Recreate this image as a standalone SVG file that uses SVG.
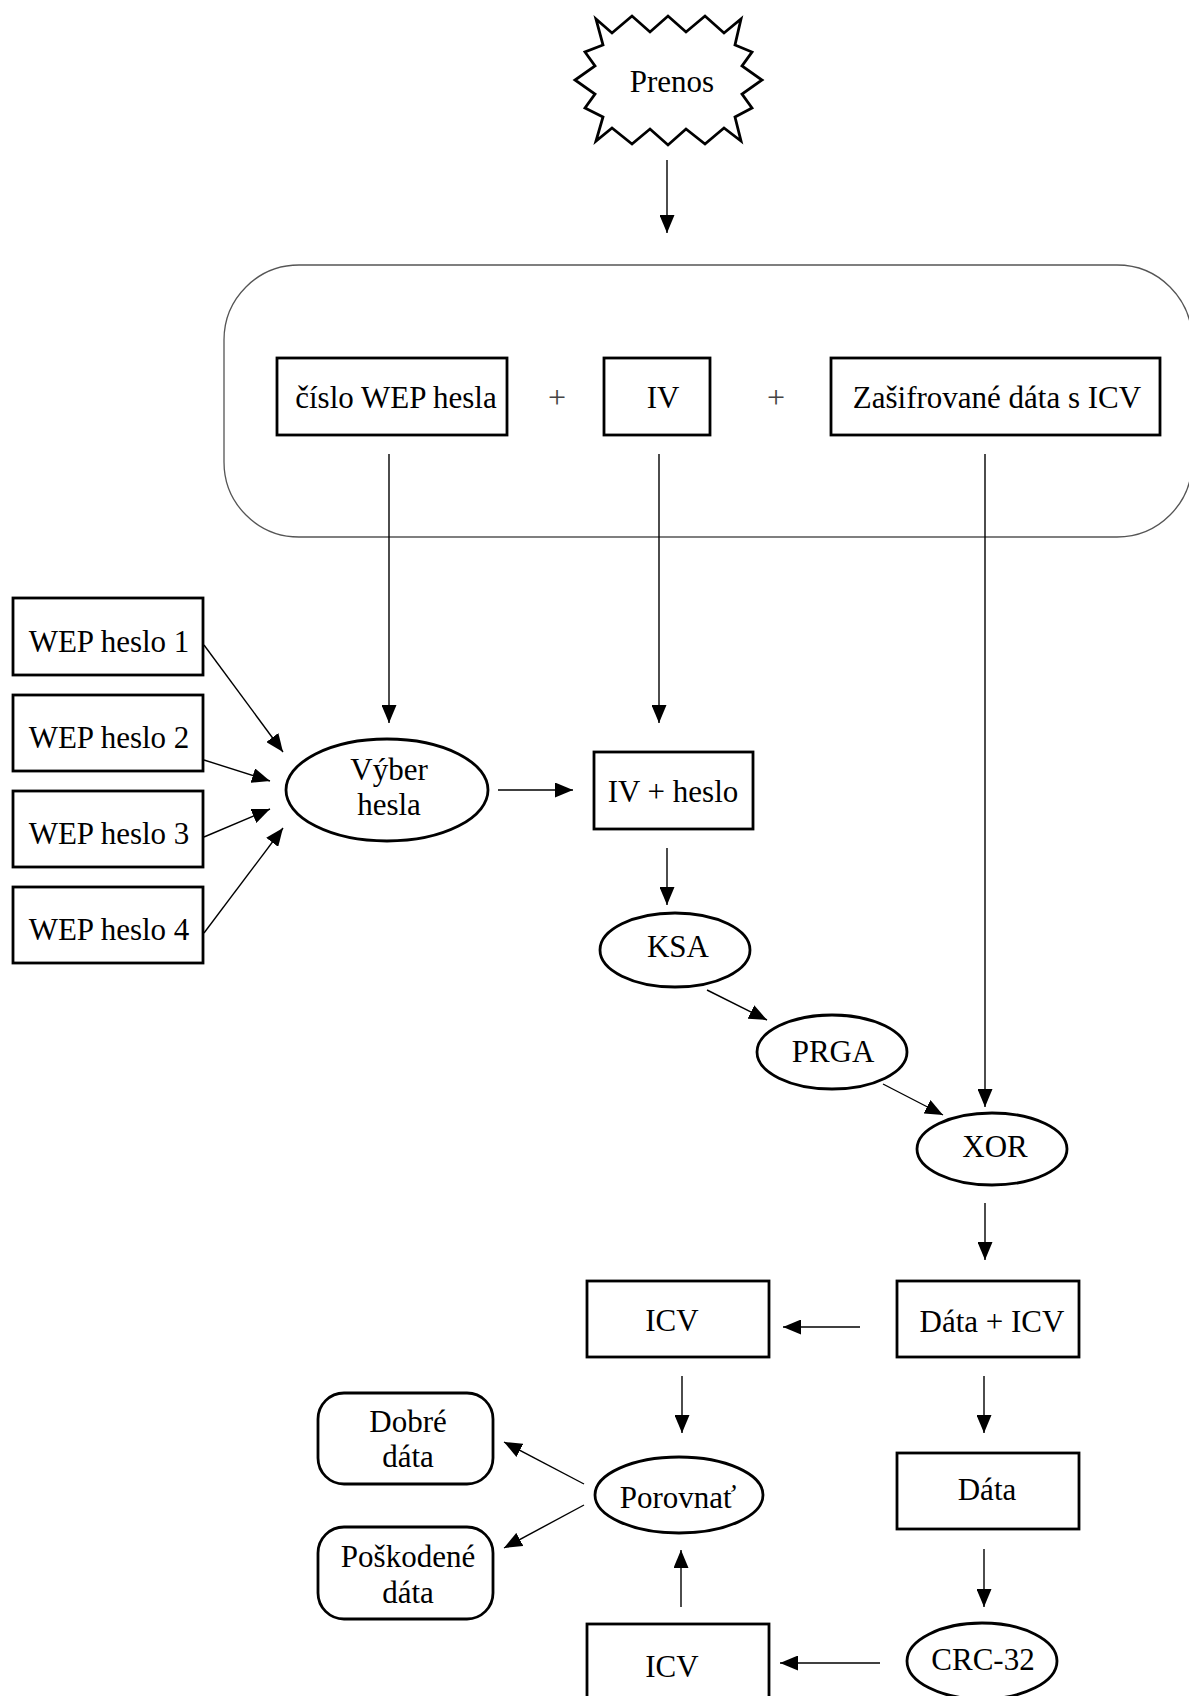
<svg xmlns="http://www.w3.org/2000/svg" width="1189" height="1696" viewBox="0 0 1189 1696">
<style>
.box{fill:#fff;stroke:#000;stroke-width:2.8}
.thin{fill:none;stroke:#555;stroke-width:1.3}
.t{font-family:"Liberation Serif","Times New Roman",serif;font-size:31px;fill:#000;text-anchor:middle}
.plus{font-family:"Liberation Serif","Times New Roman",serif;font-size:32px;fill:#444;text-anchor:middle}
.c line{stroke:#000;stroke-width:1.4;marker-end:url(#ah)}
</style>
<defs>
<marker id="ah" markerUnits="userSpaceOnUse" markerWidth="18" markerHeight="15" refX="18" refY="7.5" orient="auto">
<path d="M0,0 L18,7.5 L0,15 z" fill="#000"/>
</marker>
</defs>
<rect width="1189" height="1696" fill="#fff"/>

<g id="prenos">
<polygon class="box" points="596,19 612,33 632,16 650,32 668,16 686,32 705,16 724,33 741,19 735,45 752,52 742,66 762,80 742,94 752,108 735,117 741,141 724,128 705,144 686,129 668,145 650,129 632,144 612,128 596,141 603,117 585,108 595,94 575,80 595,66 585,52 603,45"/>
<text class="t" x="672" y="92">Prenos</text>
</g>

<g id="container">
<rect class="thin" x="224" y="265" width="968" height="272" rx="75" ry="75"/>
</g>

<g id="cislo">
<rect class="box" x="277" y="358" width="230" height="77"/>
<text class="t" x="396" y="408">číslo WEP hesla</text>
</g>
<text class="plus" x="557" y="408">+</text>
<g id="iv">
<rect class="box" x="604" y="358" width="106" height="77"/>
<text class="t" x="663" y="408">IV</text>
</g>
<text class="plus" x="776" y="408">+</text>
<g id="zasifrovane">
<rect class="box" x="831" y="358" width="329" height="77"/>
<text class="t" x="997" y="408">Zašifrované dáta s ICV</text>
</g>

<g id="wep1"><rect class="box" x="13" y="598" width="190" height="77"/><text class="t" x="109" y="652">WEP heslo 1</text></g>
<g id="wep2"><rect class="box" x="13" y="695" width="190" height="76"/><text class="t" x="109" y="748">WEP heslo 2</text></g>
<g id="wep3"><rect class="box" x="13" y="791" width="190" height="76"/><text class="t" x="109" y="844">WEP heslo 3</text></g>
<g id="wep4"><rect class="box" x="13" y="887" width="190" height="76"/><text class="t" x="109" y="940">WEP heslo 4</text></g>

<g id="vyber">
<ellipse class="box" cx="387" cy="790" rx="101" ry="51"/>
<text class="t" x="389" y="780">Výber</text>
<text class="t" x="389" y="815">hesla</text>
</g>

<g id="ivheslo">
<rect class="box" x="594" y="752" width="159" height="77"/>
<text class="t" x="673" y="802">IV + heslo</text>
</g>

<g id="ksa">
<ellipse class="box" cx="675" cy="950" rx="75" ry="37"/>
<text class="t" x="678" y="957">KSA</text>
</g>

<g id="prga">
<ellipse class="box" cx="832" cy="1052" rx="75" ry="37"/>
<text class="t" x="833" y="1062">PRGA</text>
</g>

<g id="xor">
<ellipse class="box" cx="992" cy="1149" rx="75" ry="36"/>
<text class="t" x="995" y="1157">XOR</text>
</g>

<g id="dataicv">
<rect class="box" x="897" y="1281" width="182" height="76"/>
<text class="t" x="992" y="1332">Dáta + ICV</text>
</g>

<g id="icv1">
<rect class="box" x="587" y="1281" width="182" height="76"/>
<text class="t" x="672" y="1331">ICV</text>
</g>

<g id="data">
<rect class="box" x="897" y="1453" width="182" height="76"/>
<text class="t" x="987" y="1500">Dáta</text>
</g>

<g id="porovnat">
<ellipse class="box" cx="679" cy="1495" rx="84" ry="38"/>
<text class="t" x="678" y="1508">Porovnať</text>
</g>

<g id="dobre">
<rect class="box" x="318" y="1393" width="175" height="91" rx="26" ry="26"/>
<text class="t" x="408" y="1432">Dobré</text>
<text class="t" x="408" y="1467">dáta</text>
</g>

<g id="poskodene">
<rect class="box" x="318" y="1527" width="175" height="92" rx="26" ry="26"/>
<text class="t" x="408" y="1567">Poškodené</text>
<text class="t" x="408" y="1603">dáta</text>
</g>

<g id="icv2">
<rect class="box" x="587" y="1624" width="182" height="80"/>
<text class="t" x="672" y="1677">ICV</text>
</g>

<g id="crc">
<ellipse class="box" cx="982" cy="1661" rx="75" ry="38"/>
<text class="t" x="983" y="1670">CRC-32</text>
</g>

<g id="connectors" class="c">
<line x1="667" y1="160" x2="667" y2="233"/>
<line x1="389" y1="454" x2="389" y2="723"/>
<line x1="659" y1="454" x2="659" y2="723"/>
<line x1="985" y1="454" x2="985" y2="1107"/>
<line x1="204" y1="645" x2="283" y2="752"/>
<line x1="204" y1="760" x2="270" y2="781"/>
<line x1="204" y1="837" x2="270" y2="809"/>
<line x1="204" y1="933" x2="283" y2="828"/>
<line x1="498" y1="790" x2="573" y2="790"/>
<line x1="667" y1="848" x2="667" y2="905"/>
<line x1="707" y1="990" x2="767" y2="1020"/>
<line x1="883" y1="1084" x2="943" y2="1115"/>
<line x1="985" y1="1203" x2="985" y2="1260"/>
<line x1="860" y1="1327" x2="783" y2="1327"/>
<line x1="682" y1="1376" x2="682" y2="1433"/>
<line x1="984" y1="1376" x2="984" y2="1433"/>
<line x1="984" y1="1549" x2="984" y2="1607"/>
<line x1="584" y1="1484" x2="504" y2="1442"/>
<line x1="584" y1="1505" x2="504" y2="1548"/>
<line x1="681" y1="1607" x2="681" y2="1550"/>
<line x1="880" y1="1663" x2="780" y2="1663"/>
</g>
</svg>
